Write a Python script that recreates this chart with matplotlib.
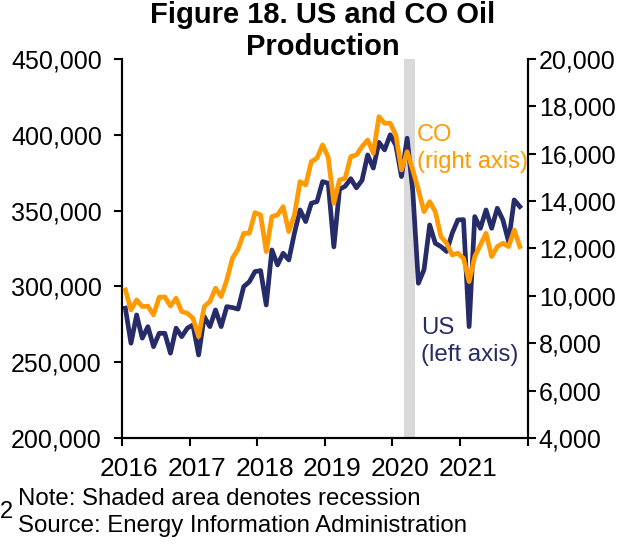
import numpy as np
import matplotlib
matplotlib.use('Agg')
import matplotlib.pyplot as plt
from matplotlib.ticker import FuncFormatter, FixedLocator, NullFormatter

plt.rcParams['font.family'] = ['Liberation Sans', 'DejaVu Sans']

# monthly production, Jan 2016 - Nov 2021 (thousand barrels)
us_prod = [285.6, 262.5, 281.1, 265.8, 273.4, 260.2, 269.0, 269.0, 255.9, 272.4, 266.8, 272.4,
           274.5, 254.7, 280.0, 273.4, 284.4, 273.4, 286.6, 286.0, 285.0, 299.8, 303.0, 309.7,
           310.4, 287.7, 324.0, 314.1, 321.8, 317.4, 335.0, 350.4, 342.7, 354.8, 355.9, 369.1,
           368.0, 326.0, 364.0, 366.0, 371.0, 365.0, 370.0, 386.7, 378.0, 395.0, 390.0, 400.0,
           393.0, 372.4, 397.7, 363.0, 302.0, 311.0, 340.5, 328.4, 326.2, 323.0, 335.0, 343.8,
           344.0, 273.4, 346.0, 338.3, 350.4, 338.3, 351.5, 343.8, 329.5, 357.0, 352.6]
co_prod = [10248, 9403, 9826, 9545, 9560, 9192, 9940, 9950, 9570, 9897, 9333, 9262,
           9050, 8277, 9545, 9755, 10318, 9966, 10670, 11585, 11965, 12640, 12640, 13511,
           13414, 11865, 13343, 13414, 13765, 12710, 13414, 14820, 14680, 15665, 15810, 16370,
           15850, 13910, 14890, 14960, 15875, 15950, 16300, 16580, 16020, 17564, 17285, 17285,
           16790, 15313, 16087, 15313, 14470, 13554, 13976, 13554, 12500, 12218, 11726, 11797,
           11586, 10600, 11656, 12148, 12640, 11656, 12078, 12218, 12078, 12780, 12078]
us_prod = [v * 1000 for v in us_prod]
years = [2016, 2017, 2018, 2019, 2020, 2021]
recession = (2020 + 2 / 12, 2020 + 4 / 12)

navy = '#262b69'
orange = '#ff9a00'

x = 2016 + (np.arange(len(us_prod)) + 0.6) / 12

fig = plt.figure(figsize=(6.32, 5.46), dpi=100)
ax1 = fig.add_axes([0.193, 0.198, 0.642, 0.694])
ax2 = ax1.twinx()

ax1.axvspan(recession[0], recession[1], color='#d9d9d9', lw=0, zorder=0)
ax1.plot(x, us_prod, color=navy, lw=3.4, zorder=2)
ax2.plot(x, co_prod, color=orange, lw=3.4, zorder=3)

ax1.set_xlim(2016, 2022)
ax1.set_ylim(200000, 450000)
ax2.set_ylim(4000, 20000)
ax1.set_yticks(np.arange(200000, 450001, 50000))
ax2.set_yticks(np.arange(4000, 20001, 2000))
fmt = FuncFormatter(lambda v, p: '{:,.0f}'.format(v))
ax1.yaxis.set_major_formatter(fmt)
ax2.yaxis.set_major_formatter(fmt)

# year ticks at year starts, labels nudged to the right
ax1.xaxis.set_major_locator(FixedLocator(years + [2022]))
ax1.xaxis.set_major_formatter(NullFormatter())
ax1.xaxis.set_minor_locator(FixedLocator([y + 0.11 for y in years]))
ax1.xaxis.set_minor_formatter(FuncFormatter(lambda v, p: str(int(round(v - 0.11)))))
ax1.tick_params(axis='x', which='minor', length=0, labelsize=19, pad=14)
ax1.tick_params(axis='x', which='major', length=6, width=1.5, direction='out')
ax1.tick_params(axis='y', length=6, width=1.5, labelsize=18, pad=8.5)
ax2.tick_params(axis='y', length=6, width=1.5, labelsize=18, pad=2)

for a in (ax1, ax2):
    a.spines['top'].set_visible(False)
    for s in ('left', 'right', 'bottom'):
        a.spines[s].set_linewidth(1.5)
    a.set_facecolor('none')

ax1.text(2020.36, 407000, 'CO\n(right axis)', color=orange, fontsize=17,
         va='top', ha='left', linespacing=1.3)
ax1.text(2020.42, 280000, 'US\n(left axis)', color=navy, fontsize=17.3,
         va='top', ha='left', linespacing=1.3)

fig.text(0.511, 0.998, 'Figure 18. US and CO Oil\nProduction', ha='center', va='top',
         fontsize=21, fontweight='bold', linespacing=1.2)
fig.text(0.028, 0.061, 'Note: Shaded area denotes recession\nSource: Energy Information Administration',
         ha='left', va='center', fontsize=17.3, linespacing=1.3)
fig.text(0.0, 0.063, '2', ha='left', va='center', fontsize=17)

fig.savefig('out.png', dpi=100)
